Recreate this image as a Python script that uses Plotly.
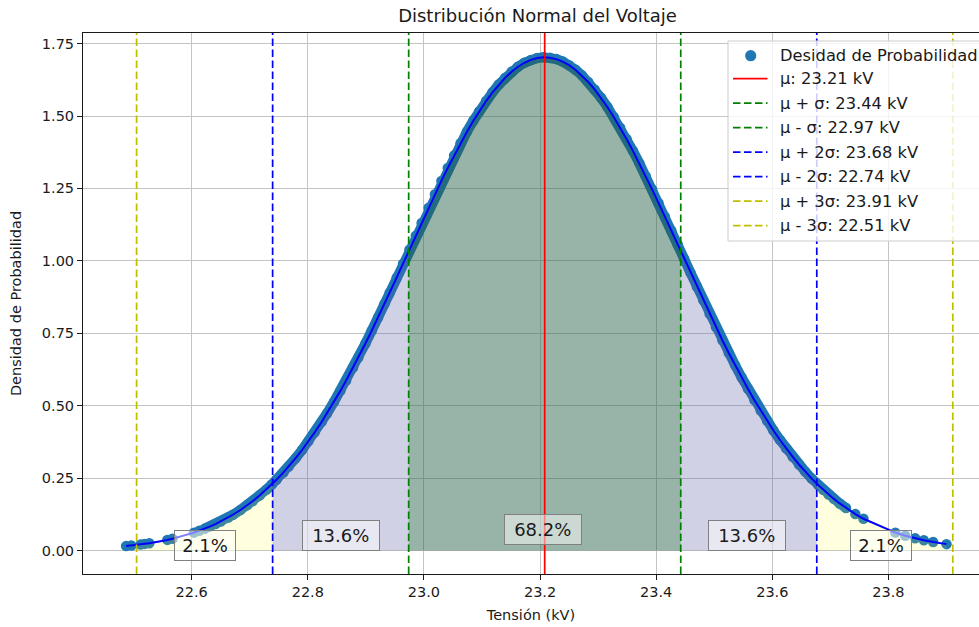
import numpy as np
import plotly.graph_objects as go

# Parámetros de la distribución normal del voltaje (kV)
mu = 23.208
sigma = 0.2343

# Muestras de tensión medidas (kV): colas y zona central
tension_cola_izq = [22.487, 22.496, 22.512, 22.519, 22.527, 22.558, 22.567, 22.604, 22.613]
tension_nucleo = [
    22.622, 22.631, 22.641, 22.650, 22.663, 22.671, 22.684, 22.696, 22.705, 22.717,
    22.729, 22.738, 22.746, 22.758, 22.767, 22.779, 22.790, 22.801, 22.812, 22.824,
    22.833, 22.845, 22.856, 22.866, 22.878, 22.887, 22.899, 22.910, 22.921, 22.932,
    22.941, 22.953, 22.964, 22.975, 22.986, 22.996, 23.008, 23.019, 23.030, 23.041,
    23.052, 23.063, 23.074, 23.085, 23.095, 23.107, 23.118, 23.129, 23.140, 23.151,
    23.162, 23.173, 23.184, 23.195, 23.206, 23.217, 23.228, 23.239, 23.250, 23.261,
    23.272, 23.283, 23.294, 23.305, 23.316, 23.327, 23.338, 23.349, 23.360, 23.371,
    23.382, 23.393, 23.404, 23.415, 23.426, 23.437, 23.448, 23.459, 23.470, 23.481,
    23.492, 23.503, 23.514, 23.525, 23.536, 23.547, 23.558, 23.569, 23.580, 23.591,
    23.602, 23.613, 23.624, 23.635, 23.646, 23.657, 23.668, 23.679, 23.688, 23.697,
    23.706, 23.716, 23.727,
]
tension_cola_der = [23.743, 23.757, 23.812, 23.829, 23.846, 23.861, 23.877, 23.900]

# Porcentajes de área por franja de sigma
porcentajes = ["2.1%", "13.6%", "68.2%", "13.6%", "2.1%"]


def densidad(x):
    x = np.asarray(x, dtype=float)
    return np.exp(-((x - mu) ** 2) / (2 * sigma ** 2)) / (sigma * np.sqrt(2 * np.pi))


muestras = np.sort(np.array(tension_cola_izq + tension_nucleo + tension_cola_der))

FONT = "DejaVu Sans"
AZUL_PUNTOS = "#1f77b4"
TEXTO = "#1a1a1a"

# Área de trazado en píxeles
W, H = 979, 627
L, T, B = 83, 33, 53
PW, PH = W - L, H - T - B


def px_x(p):
    return (p - L) / PW


def px_y(p):
    return (H - B - p) / PH


fig = go.Figure()

# Densidad de probabilidad en cada muestra
fig.add_trace(go.Scatter(
    x=tension_cola_izq + tension_cola_der,
    y=densidad(tension_cola_izq + tension_cola_der),
    mode="markers",
    marker=dict(color=AZUL_PUNTOS, size=10.5, line=dict(width=0)),
    name="Desidad de Probabilidad", hoverinfo="skip",
))
fig.add_trace(go.Scatter(
    x=tension_nucleo, y=densidad(tension_nucleo),
    mode="lines+markers",
    line=dict(color=AZUL_PUNTOS, width=10),
    marker=dict(color=AZUL_PUNTOS, size=10.5, line=dict(width=0)),
    hoverinfo="skip",
))


def franja(k):
    lo, hi = mu - k * sigma, mu + k * sigma
    lo = max(lo, muestras.min())
    hi = min(hi, muestras.max())
    dentro = muestras[(muestras > lo) & (muestras < hi)]
    xs = np.concatenate([[lo], dentro, [hi]])
    return xs, densidad(xs)


rellenos = [(3, "rgba(255,255,0,0.12)"), (2, "rgba(0,0,255,0.18)"), (1, "rgba(0,100,0,0.27)")]
for k, color in rellenos:
    xs, ys = franja(k)
    fig.add_trace(go.Scatter(
        x=xs, y=ys, mode="lines", line=dict(width=0), fill="tozeroy",
        fillcolor=color, hoverinfo="skip",
    ))

# Curva de densidad normal
fig.add_trace(go.Scatter(
    x=muestras, y=densidad(muestras), mode="lines",
    line=dict(color="#0000ff", width=2), hoverinfo="skip",
))

Y_RANGO = [-0.0814, 1.7866]
X_RANGO = [22.4128, 23.956]
DASH = "7.5px,3.5px"

lineas = [
    (mu, "μ: {:.2f} kV", "#ff0000", "solid"),
    (mu + sigma, "μ + σ: {:.2f} kV", "#008000", DASH),
    (mu - sigma, "μ - σ: {:.2f} kV", "#008000", DASH),
    (mu + 2 * sigma, "μ + 2σ: {:.2f} kV", "#0000ff", DASH),
    (mu - 2 * sigma, "μ - 2σ: {:.2f} kV", "#0000ff", DASH),
    (mu + 3 * sigma, "μ + 3σ: {:.2f} kV", "#bfbf00", DASH),
    (mu - 3 * sigma, "μ - 3σ: {:.2f} kV", "#bfbf00", DASH),
]
for xv, etiqueta, color, estilo in lineas:
    fig.add_trace(go.Scatter(
        x=[xv, xv], y=Y_RANGO, mode="lines",
        line=dict(color=color, width=1.7, dash=estilo),
        name=etiqueta.format(xv), hoverinfo="skip",
    ))

# Cuadros con los porcentajes de cada franja
pos_x = [22.623, 22.857, 23.205, 23.557, 23.787]
pos_y = [0.018, 0.053, 0.073, 0.053, 0.018]
for texto, px, py in zip(porcentajes, pos_x, pos_y):
    fig.add_annotation(
        x=px, y=py, text=texto, showarrow=False,
        font=dict(family=FONT, size=18, color=TEXTO),
        bgcolor="rgba(255,255,255,0.5)", bordercolor="#808080", borderwidth=1, borderpad=4,
        width=15.5 * len(texto) - 10, height=21, align="center",
        xanchor="center", yanchor="middle",
    )

# Leyenda en la esquina superior derecha
caja_x0, caja_x1, caja_y0, caja_y1 = 728, 990, 41, 241
ax0, ax1 = px_x(caja_x0), px_x(caja_x1)
ay0, ay1 = px_y(caja_y1), px_y(caja_y0)
fig.add_shape(
    type="rect", xref="paper", yref="paper",
    x0=ax0, x1=ax1, y0=ay0, y1=ay1,
    fillcolor="rgba(255,255,255,0.8)", line=dict(color="#cccccc", width=1),
    layer="above",
)
filas = [55.7, 78.7, 103.2, 127.7, 152.2, 176.7, 201.2, 225.7]
entradas = [("Desidad de Probabilidad", AZUL_PUNTOS, None)] + [
    (et.format(xv), c, est) for xv, et, c, est in lineas
]
for fila, (texto, color, estilo) in zip(filas, entradas):
    yc = px_y(fila)
    if estilo is None:
        fig.add_shape(
            type="circle", xref="paper", yref="paper",
            x0=px_x(750.7 - 5.6), x1=px_x(750.7 + 5.6),
            y0=px_y(fila + 5.6), y1=px_y(fila - 5.6),
            fillcolor=color, line=dict(width=0), layer="above",
        )
    else:
        fig.add_shape(
            type="line", xref="paper", yref="paper",
            x0=px_x(733), x1=px_x(767.5), y0=yc, y1=yc,
            line=dict(color=color, width=1.7, dash=estilo), layer="above",
        )
    fig.add_annotation(
        x=px_x(779), y=yc, xref="paper", yref="paper", text=texto, showarrow=False,
        xanchor="left", yanchor="middle", font=dict(family=FONT, size=16.3, color=TEXTO),
        borderpad=0,
    )

fig.update_layout(
    width=W, height=H,
    margin=dict(l=L, r=0, t=T, b=B),
    paper_bgcolor="white", plot_bgcolor="white",
    font=dict(family=FONT, size=14.5, color=TEXTO),
    title=dict(text="Distribución Normal del Voltaje", x=px_x(537.5), xref="paper",
               xanchor="center", y=1 - 16 / H, yanchor="middle",
               font=dict(family=FONT, size=18, color=TEXTO)),
    showlegend=False,
)
fig.update_xaxes(
    range=X_RANGO, tickvals=[22.6, 22.8, 23.0, 23.2, 23.4, 23.6, 23.8], tickformat=".1f",
    showgrid=True, gridcolor="#c4c4c4", gridwidth=1, zeroline=False,
    showline=True, linecolor=TEXTO, linewidth=1, mirror=True,
    ticks="outside", ticklen=5, tickcolor=TEXTO,
    title=dict(text="Tensión (kV)", standoff=10, font=dict(size=14.5)),
    layer="above traces",
)
fig.update_yaxes(
    range=Y_RANGO, tickvals=[0, 0.25, 0.5, 0.75, 1.0, 1.25, 1.5, 1.75], tickformat=".2f",
    showgrid=True, gridcolor="#c4c4c4", gridwidth=1, zeroline=False,
    showline=True, linecolor=TEXTO, linewidth=1,
    ticks="outside", ticklen=5, tickcolor=TEXTO,
    title=dict(text="Densidad de Probabilidad", standoff=16, font=dict(size=14.5)),
    layer="above traces",
)

fig.write_html("out.html")
